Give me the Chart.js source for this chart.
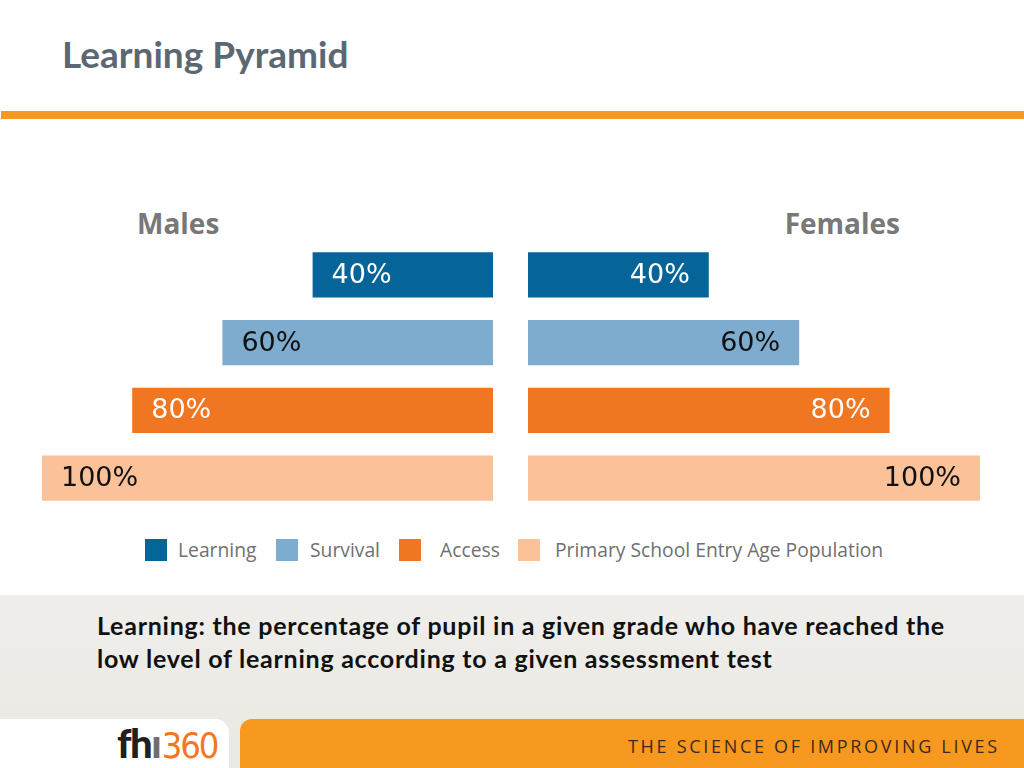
<!DOCTYPE html>
<html>
<head>
<meta charset="utf-8">
<script src="https://cdn.jsdelivr.net/npm/chart.js@4/dist/chart.umd.min.js"></script>
<style>
  html, body { margin:0; padding:0; width:1024px; height:768px; overflow:hidden; background:#fff; }
  #slide { position:relative; width:1024px; height:768px; background:#fff; }
  .abs { position:absolute; }
  #title { left:62px; top:31px; font-family:Lato, sans-serif; font-weight:700; font-size:37px; color:#5b6874; white-space:nowrap; }
  #rule { left:1px; top:111px; width:1023px; height:8px; background:#f7981f; }
  .side { top:204px; font-family:"Open Sans", sans-serif; font-weight:700; font-size:28px; color:#787878; }
  #males { left:137px; }
  #females { right:124px; }
  #cl { left:42px; top:241px; width:451px; height:271px; }
  #cr { left:528px; top:241px; width:452px; height:271px; }
  .lg-box { top:539px; width:22px; height:22px; }
  .lg-txt { top:536px; font-family:"Open Sans", sans-serif; font-size:19.3px; color:#707070; white-space:nowrap; }
  #band { left:0; top:595px; width:1024px; height:173px; background:linear-gradient(#efeeea, #e9e8e3); }
  #note { left:97px; top:609px; font-family:Lato, sans-serif; font-weight:700; font-size:25px; letter-spacing:0.75px; line-height:33px; color:#111; white-space:nowrap; }
  #tab { left:0; top:719px; width:229px; height:49px; background:#fff; border-top-right-radius:14px; }
  #foot { left:240px; top:719px; width:784px; height:49px; background:#f7981f; border-top-left-radius:12px; }
  #slogan { left:628px; top:734px; font-family:"Open Sans", sans-serif; font-size:18px; letter-spacing:2.7px; color:#3a2b1c; white-space:nowrap; }
  #logo { left:117px; top:721px; white-space:nowrap; font-size:40px; line-height:44px; }
  #logo .f { font-family:Lato, sans-serif; font-weight:900; color:#231f20; letter-spacing:-1.5px; }
  #logo .i { font-family:Lato, sans-serif; font-weight:900; color:#6d6e70; }
  #logo .n { font-family:"Liberation Sans Narrow", "DejaVu Sans Condensed", sans-serif; font-weight:400; color:#f37721; font-size:36px; letter-spacing:-2px; }
</style>
</head>
<body>
<div id="slide">
  <div id="title" class="abs">Learning Pyramid</div>
  <div id="rule" class="abs"></div>

  <div id="males" class="abs side">Males</div>
  <div id="females" class="abs side">Females</div>

  <div id="cl" class="abs"><canvas id="chartL"></canvas></div>
  <div id="cr" class="abs"><canvas id="chartR"></canvas></div>

  <div id="legend"></div>

  <div id="band" class="abs"></div>
  <div id="note" class="abs">Learning: the percentage of pupil in a given grade who have reached the<br>low level of learning according to a given assessment test</div>
  <div id="tab" class="abs"></div>
  <div id="logo" class="abs"><span class="f">fh</span><span class="i">ı</span><span class="n">360</span></div>
  <div id="foot" class="abs"></div>
  <div id="slogan" class="abs">THE SCIENCE OF IMPROVING LIVES</div>
</div>

<script>
// ---- data ----
const categories = ['Learning', 'Survival', 'Access', 'Primary School Entry Age Population'];
const males = [40, 60, 80, 100];
const females = [40, 60, 80, 100];
const barColors = ['#066598', '#7eaccf', '#f17622', '#fbc29a'];
const labelColors = ['#ffffff', '#111111', '#ffffff', '#111111'];

// ---- legend (HTML) ----
const legendPos = [[145, 178], [276, 310], [399, 440], [518, 555]];
const legendEl = document.getElementById('legend');
categories.forEach((c, i) => {
  const b = document.createElement('div');
  b.className = 'abs lg-box';
  b.style.left = legendPos[i][0] + 'px';
  b.style.background = barColors[i];
  legendEl.appendChild(b);
  const t = document.createElement('div');
  t.className = 'abs lg-txt';
  t.style.left = legendPos[i][1] + 'px';
  t.textContent = c;
  legendEl.appendChild(t);
});

// ---- value labels plugin ----
const valueLabels = {
  id: 'valueLabels',
  afterDatasetsDraw(chart, args, opts) {
    const ctx = chart.ctx;
    const meta = chart.getDatasetMeta(0);
    const ds = chart.data.datasets[0];
    ctx.save();
    ctx.font = '400 27px "DejaVu Sans", sans-serif';
    ctx.textBaseline = 'middle';
    meta.data.forEach((bar, i) => {
      const v = ds.data[i];
      ctx.fillStyle = labelColors[i];
      if (opts.side === 'left') {
        ctx.textAlign = 'left';
        ctx.fillText(v + '%', bar.x + 19, bar.y + 1);
      } else {
        ctx.textAlign = 'right';
        ctx.fillText(v + '%', bar.x - 19, bar.y + 1);
      }
    });
    ctx.restore();
  }
};

function makeChart(id, values, side) {
  return new Chart(document.getElementById(id), {
    type: 'bar',
    data: {
      labels: categories,
      datasets: [{
        label: side === 'left' ? 'Males' : 'Females',
        data: values,
        backgroundColor: barColors,
        borderWidth: 0,
        barPercentage: 0.665,
        categoryPercentage: 1.0
      }]
    },
    options: {
      indexAxis: 'y',
      responsive: true,
      maintainAspectRatio: false,
      animation: false,
      layout: { padding: 0 },
      scales: {
        x: { display: false, min: 0, max: 100, reverse: side === 'left' },
        y: { display: false }
      },
      plugins: {
        legend: { display: false },
        tooltip: { enabled: false },
        valueLabels: { side: side }
      }
    },
    plugins: [valueLabels]
  });
}

makeChart('chartL', males, 'left');
makeChart('chartR', females, 'right');
</script>
</body>
</html>
